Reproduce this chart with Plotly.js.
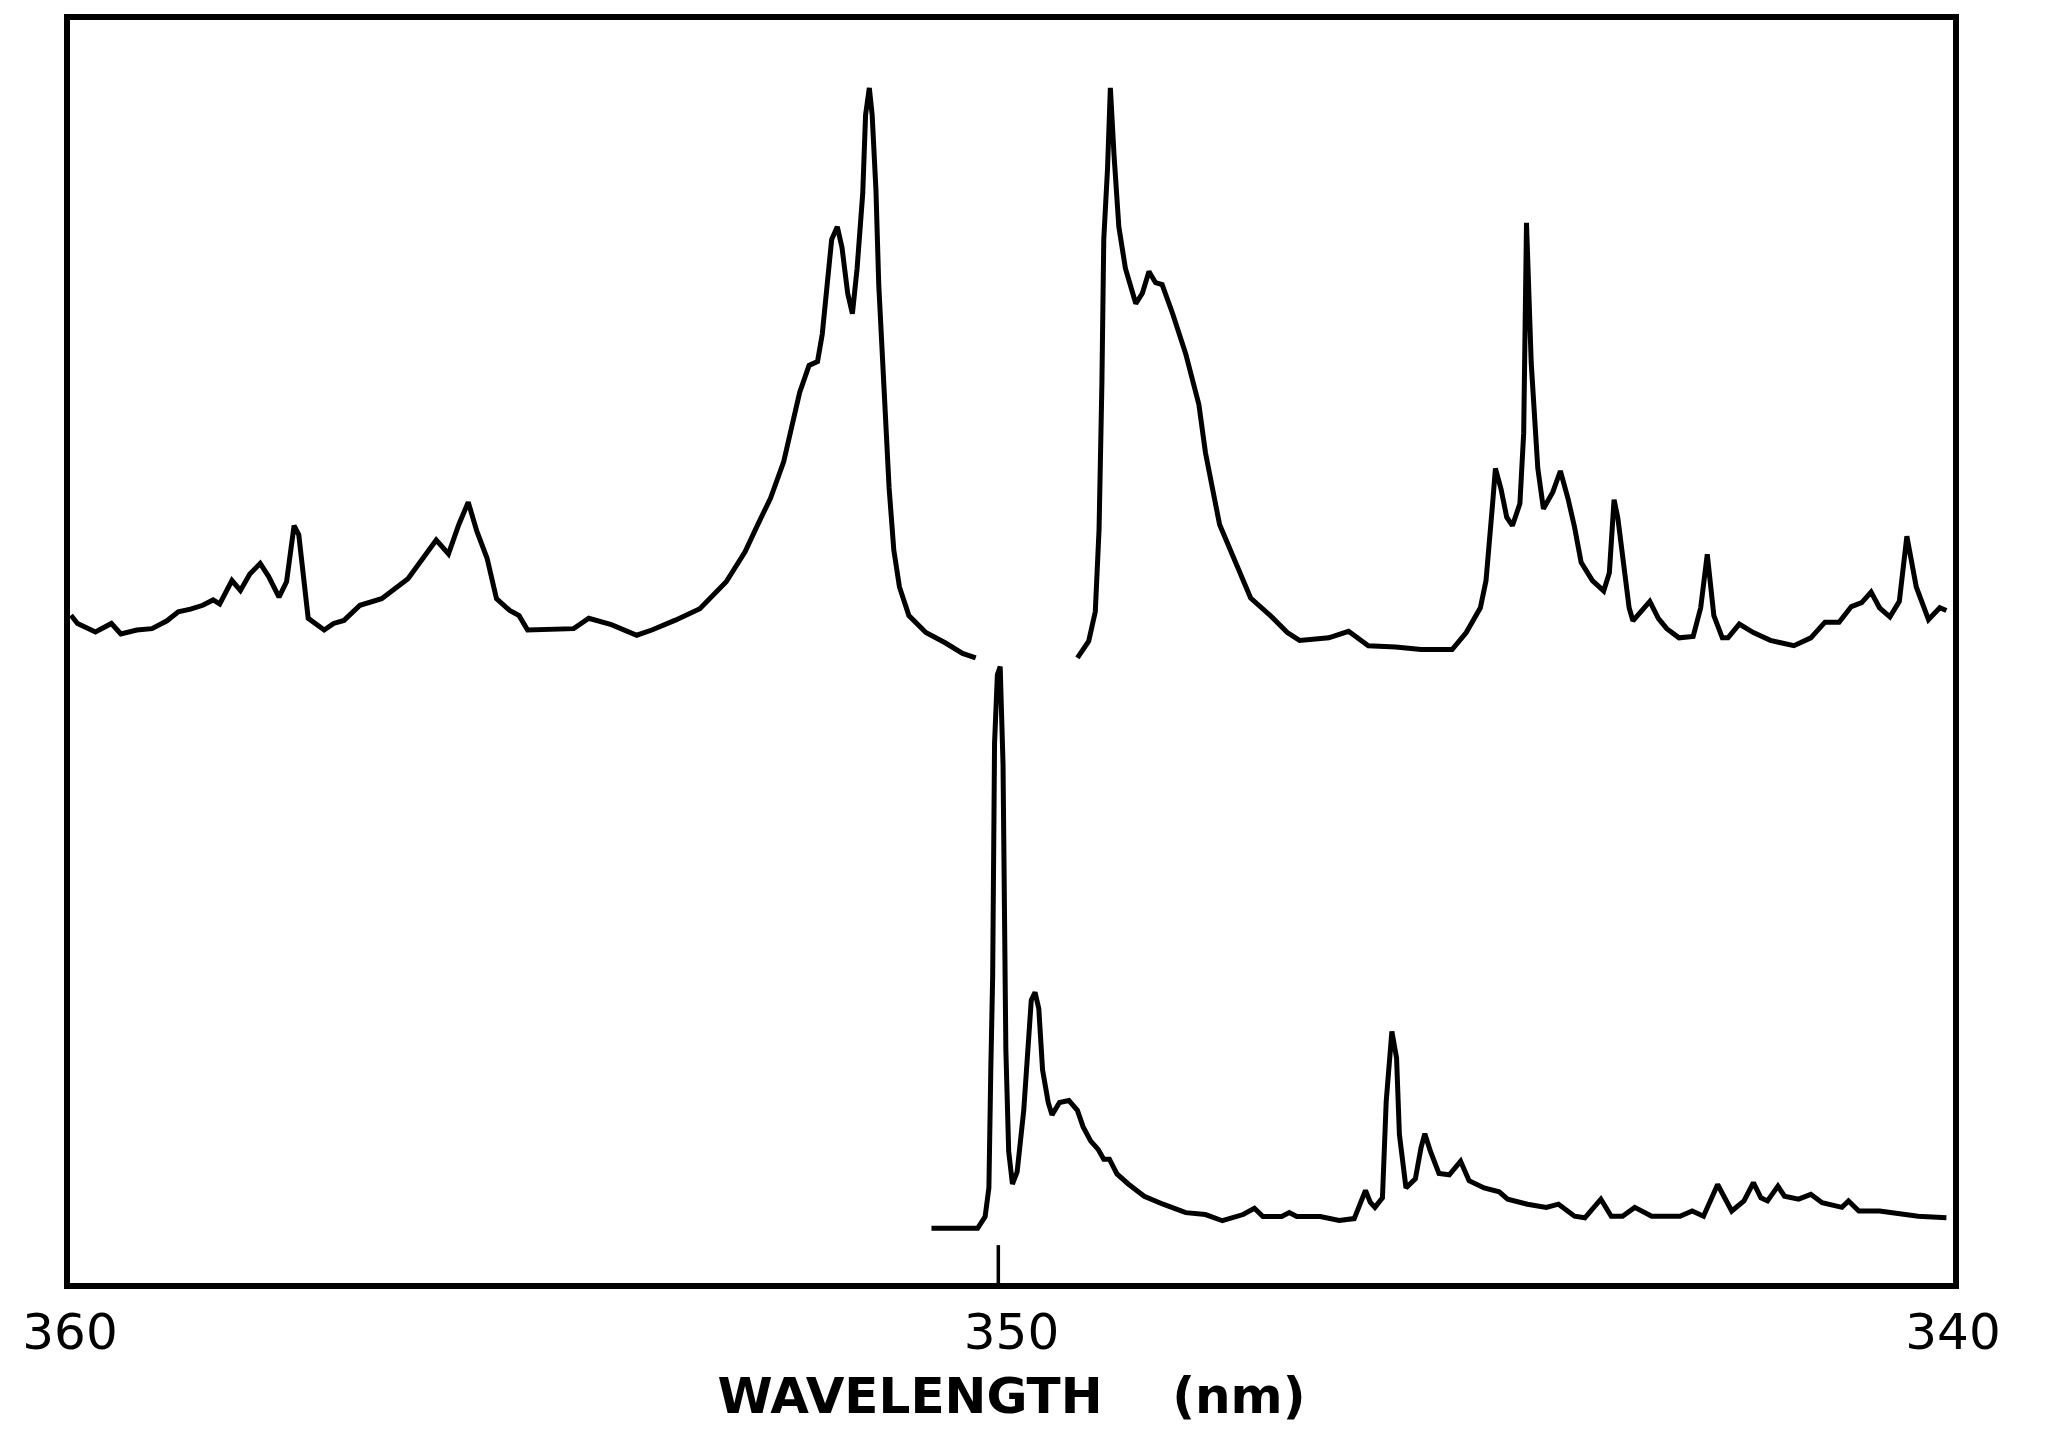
<!DOCTYPE html>
<html>
<head>
<meta charset="utf-8">
<script src="https://cdn.plot.ly/plotly-3.0.1.min.js"></script>
<style>html,body{margin:0;padding:0;background:#fff;}#chart{width:2047px;height:1449px;}</style>
</head>
<body>
<div id="chart"></div>
<script>
// Upper spectrum, long-wavelength side (nm, arbitrary intensity)
const upperLeftNm = [359.99,359.92,359.73,359.56,359.46,359.29,359.13,358.97,358.85,358.72,
358.59,358.48,358.41,358.28,358.19,358.09,357.98,357.89,357.78,357.70,
357.62,357.57,357.47,357.30,357.20,357.09,356.92,356.69,356.41,356.29,
356.11,355.98,355.87,355.77,355.68,355.57,355.47,355.33,355.23,355.14,
354.86,354.65,354.49,354.25,353.98,353.82,353.57,353.31,353.03,352.83,
352.70,352.56,352.42,352.32,352.25,352.15,352.06,352.01,351.96,351.91,
351.85,351.80,351.74,351.69,351.64,351.58,351.55,351.51,351.48,351.44,
351.41,351.35,351.30,351.25,351.19,351.09,350.91,350.70,350.52,350.38];
const upperLeftI = [52.87,52.22,51.54,52.22,51.39,51.70,51.81,52.43,53.15,53.35,
53.66,54.08,53.77,55.62,54.84,56.14,56.97,55.93,54.30,55.52,
59.97,59.24,52.63,51.70,52.22,52.46,53.66,54.18,55.76,56.97,
58.82,57.73,60.06,61.82,59.55,57.38,54.18,53.25,52.84,51.70,
51.81,51.81,52.63,52.12,51.29,51.70,52.48,53.39,55.52,57.90,
59.97,62.13,65.02,68.14,70.51,72.65,72.96,75.13,79.05,82.63,
83.63,81.97,78.36,76.75,80.33,86.28,92.48,94.62,92.48,86.58,
79.05,69.51,62.95,58.03,55.11,52.84,51.50,50.67,49.85,49.49];

// Upper spectrum, short-wavelength side
const upperRightNm = [349.30,349.18,349.11,349.07,349.04,349.02,348.98,348.95,348.91,348.86,
348.79,348.68,348.61,348.54,348.47,348.40,348.29,348.15,348.01,347.94,
347.79,347.61,347.46,347.25,347.07,346.94,346.63,346.42,346.21,345.92,
345.65,345.32,345.17,345.02,344.96,344.89,344.86,344.80,344.74,344.68,
344.60,344.56,344.53,344.48,344.41,344.35,344.25,344.17,344.09,344.02,
343.95,343.83,343.71,343.65,343.60,343.56,343.48,343.44,343.40,343.31,
343.22,343.13,343.04,342.91,342.76,342.68,342.61,342.54,342.45,342.39,
342.27,342.12,341.94,341.69,341.51,341.36,341.21,341.08,340.97,340.87,
340.78,340.67,340.57,340.49,340.39,340.26,340.14,340.07];
const upperRightI = [49.49,50.82,53.15,59.68,71.15,82.63,88.24,94.62,89.20,83.63,
80.33,77.55,78.36,80.08,79.20,79.05,76.78,73.58,69.56,65.74,
60.06,56.76,54.23,52.84,51.50,50.88,51.08,51.60,50.46,50.36,
50.16,50.16,51.50,53.46,55.62,61.71,64.50,62.85,60.63,59.96,
61.71,67.29,83.95,72.86,64.50,61.30,62.64,64.29,62.13,59.86,
57.07,55.62,54.80,56.24,62.02,60.58,56.24,53.46,52.43,53.25,
53.97,52.63,51.81,51.08,51.19,53.46,57.69,52.84,51.08,51.08,
52.17,51.50,50.88,50.46,51.08,52.32,52.32,53.56,53.87,54.70,
53.46,52.74,53.97,59.13,55.11,52.53,53.46,53.25];

// Lower spectrum
const lowerNm = [350.85,350.56,350.36,350.28,350.24,350.22,350.20,350.18,350.15,350.12,
350.09,350.06,350.03,349.99,349.94,349.87,349.83,349.79,349.75,349.71,
349.67,349.61,349.57,349.49,349.39,349.30,349.24,349.16,349.08,349.02,
348.96,348.88,348.76,348.59,348.39,348.15,347.94,347.76,347.54,347.42,
347.33,347.13,347.05,346.97,346.72,346.52,346.36,346.30,346.24,346.19,
346.14,346.06,346.02,345.96,345.91,345.88,345.81,345.71,345.65,345.61,
345.55,345.46,345.35,345.23,345.14,344.98,344.82,344.73,344.52,344.32,
344.19,344.02,343.91,343.74,343.63,343.51,343.38,343.20,342.90,342.77,
342.65,342.50,342.35,342.22,342.12,342.04,341.97,341.86,341.79,341.64,
341.51,341.39,341.18,341.11,341.00,340.78,340.58,340.37,340.07];
const lowerI = [4.34,4.33,4.33,5.26,7.53,16.87,24.29,42.72,48.16,48.81,
41.07,18.49,10.42,7.84,8.80,13.67,18.49,22.39,23.01,21.72,
16.87,14.29,13.31,14.29,14.45,13.67,12.38,11.25,10.58,9.80,
9.80,8.64,7.84,6.87,6.24,5.57,5.42,4.93,5.42,5.92,
5.26,5.26,5.57,5.26,5.26,4.95,5.10,6.24,7.33,6.40,
5.99,6.74,14.39,19.92,17.81,11.76,7.53,8.26,10.73,11.82,
10.42,8.67,8.57,9.64,8.10,7.53,7.22,6.64,6.24,5.99,
6.24,5.29,5.16,6.64,5.29,5.29,5.99,5.29,5.29,5.70,
5.29,7.80,5.70,6.50,7.95,6.74,6.50,7.67,6.87,6.64,
7.02,6.35,5.99,6.50,5.70,5.70,5.47,5.29,5.16];

const tickValues = [360, 350, 340];
const tickLabels = ["360", "350", "340"];
const excitationNm = 350.14;
const xTitle = "<b>WAVELENGTH\u00A0\u00A0\u00A0 (nm)</b>";

const lineStyle = {color: "#000", width: 5, shape: "linear"};
const traces = [
  {x: upperLeftNm, y: upperLeftI, mode: "lines", line: lineStyle, hoverinfo: "skip"},
  {x: upperRightNm, y: upperRightI, mode: "lines", line: lineStyle, hoverinfo: "skip"},
  {x: lowerNm, y: lowerI, mode: "lines", line: lineStyle, hoverinfo: "skip"}
];

const font = {family: "DejaVu Sans, sans-serif", color: "#000"};
const layout = {
  width: 2047, height: 1449,
  margin: {l: 70, r: 94, t: 20, b: 166},
  paper_bgcolor: "#fff", plot_bgcolor: "#fff",
  showlegend: false,
  font: font,
  xaxis: {
    range: [360, 340],
    tickvals: tickValues, ticktext: tickLabels,
    ticks: "", showgrid: false, zeroline: false,
    showline: true, mirror: true, linecolor: "#000", linewidth: 6,
    tickfont: {family: font.family, size: 50, color: "#000"},
    ticklabelstandoff: 0,
    title: {text: xTitle, font: {family: font.family, size: 50, color: "#000"}, standoff: 20},
    automargin: false
  },
  yaxis: {
    range: [0, 100],
    showticklabels: false, ticks: "", showgrid: false, zeroline: false,
    showline: true, mirror: true, linecolor: "#000", linewidth: 6,
    automargin: false
  },
  shapes: [
    {type: "line", xref: "x", yref: "y", x0: excitationNm, x1: excitationNm, y0: 0, y1: 3.0,
     line: {color: "#000", width: 3.5}}
  ]
};

Plotly.newPlot("chart", traces, layout, {staticPlot: true, displayModeBar: false});
</script>
</body>
</html>
